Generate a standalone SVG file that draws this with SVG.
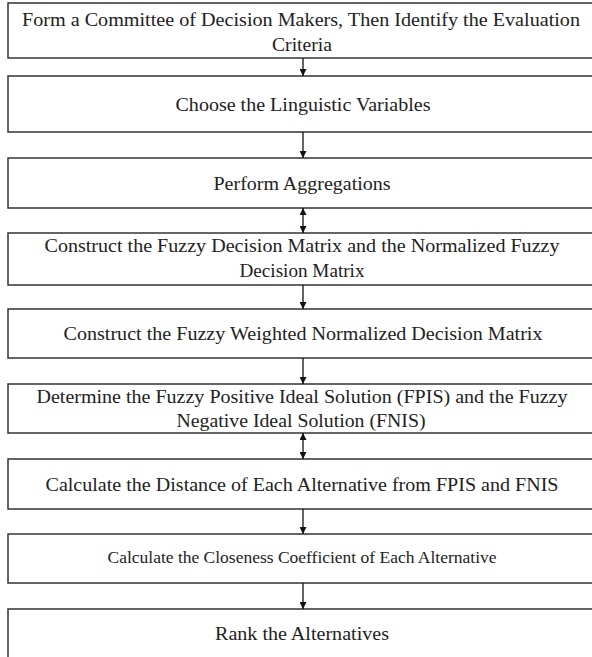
<svg xmlns="http://www.w3.org/2000/svg" width="592" height="657" viewBox="0 0 592 657">
<defs>
<marker id="ah" viewBox="0 0 10 10" refX="10" refY="5" markerWidth="7" markerHeight="7" orient="auto-start-reverse" markerUnits="userSpaceOnUse">
<path d="M0,0 L10,5 L0,10 z" fill="#111"/>
</marker>
<style>
.box{fill:#fff;stroke:#333;stroke-width:1.5}
.t{font-family:"Liberation Serif","Times New Roman",serif;font-size:18px;fill:#222;text-anchor:middle}
.s{font-size:16px}
.c{stroke:#111;stroke-width:1.3;fill:none}
</style>
</defs>
<rect width="592" height="657" fill="#fff"/>
<g id="n1"><rect class="box" x="8" y="3" width="600" height="55"/><text class="t" x="301" y="26" textLength="558" lengthAdjust="spacingAndGlyphs">Form a Committee of Decision Makers, Then Identify the Evaluation</text><text class="t" x="302" y="51" textLength="60" lengthAdjust="spacingAndGlyphs">Criteria</text></g>
<g id="n2"><rect class="box" x="8" y="76" width="600" height="56"/><text class="t" x="303" y="111" textLength="255" lengthAdjust="spacingAndGlyphs">Choose the Linguistic Variables</text></g>
<g id="n3"><rect class="box" x="8" y="158" width="600" height="50"/><text class="t" x="302" y="190" textLength="177" lengthAdjust="spacingAndGlyphs">Perform Aggregations</text></g>
<g id="n4"><rect class="box" x="8" y="233" width="600" height="52"/><text class="t" x="302" y="252" textLength="515" lengthAdjust="spacingAndGlyphs">Construct the Fuzzy Decision Matrix and the Normalized Fuzzy</text><text class="t" x="302" y="277" textLength="125" lengthAdjust="spacingAndGlyphs">Decision Matrix</text></g>
<g id="n5"><rect class="box" x="8" y="309" width="600" height="49"/><text class="t" x="303" y="340" textLength="479" lengthAdjust="spacingAndGlyphs">Construct the Fuzzy Weighted Normalized Decision Matrix</text></g>
<g id="n6"><rect class="box" x="8" y="384" width="600" height="49"/><text class="t" x="302" y="403" textLength="531" lengthAdjust="spacingAndGlyphs">Determine the Fuzzy Positive Ideal Solution (FPIS) and the Fuzzy</text><text class="t" x="301" y="427" textLength="249" lengthAdjust="spacingAndGlyphs">Negative Ideal Solution (FNIS)</text></g>
<g id="n7"><rect class="box" x="8" y="459" width="600" height="50"/><text class="t" x="302" y="491" textLength="513" lengthAdjust="spacingAndGlyphs">Calculate the Distance of Each Alternative from FPIS and FNIS</text></g>
<g id="n8"><rect class="box" x="8" y="534" width="600" height="49"/><text class="t s" x="302" y="563" textLength="389" lengthAdjust="spacingAndGlyphs">Calculate the Closeness Coefficient of Each Alternative</text></g>
<g id="n9"><rect class="box" x="8" y="609" width="600" height="60"/><text class="t" x="302" y="640" textLength="174" lengthAdjust="spacingAndGlyphs">Rank the Alternatives</text></g>
<g id="connectors">
<line class="c" x1="303" y1="58" x2="303" y2="76" marker-end="url(#ah)"/>
<line class="c" x1="303" y1="132" x2="303" y2="158" marker-end="url(#ah)"/>
<line class="c" x1="303" y1="208" x2="303" y2="233" marker-start="url(#ah)" marker-end="url(#ah)"/>
<line class="c" x1="303" y1="285" x2="303" y2="309" marker-end="url(#ah)"/>
<line class="c" x1="303" y1="358" x2="303" y2="384" marker-end="url(#ah)"/>
<line class="c" x1="303" y1="433" x2="303" y2="459" marker-start="url(#ah)" marker-end="url(#ah)"/>
<line class="c" x1="303" y1="509" x2="303" y2="534" marker-end="url(#ah)"/>
<line class="c" x1="303" y1="583" x2="303" y2="609" marker-end="url(#ah)"/>
</g>
</svg>
